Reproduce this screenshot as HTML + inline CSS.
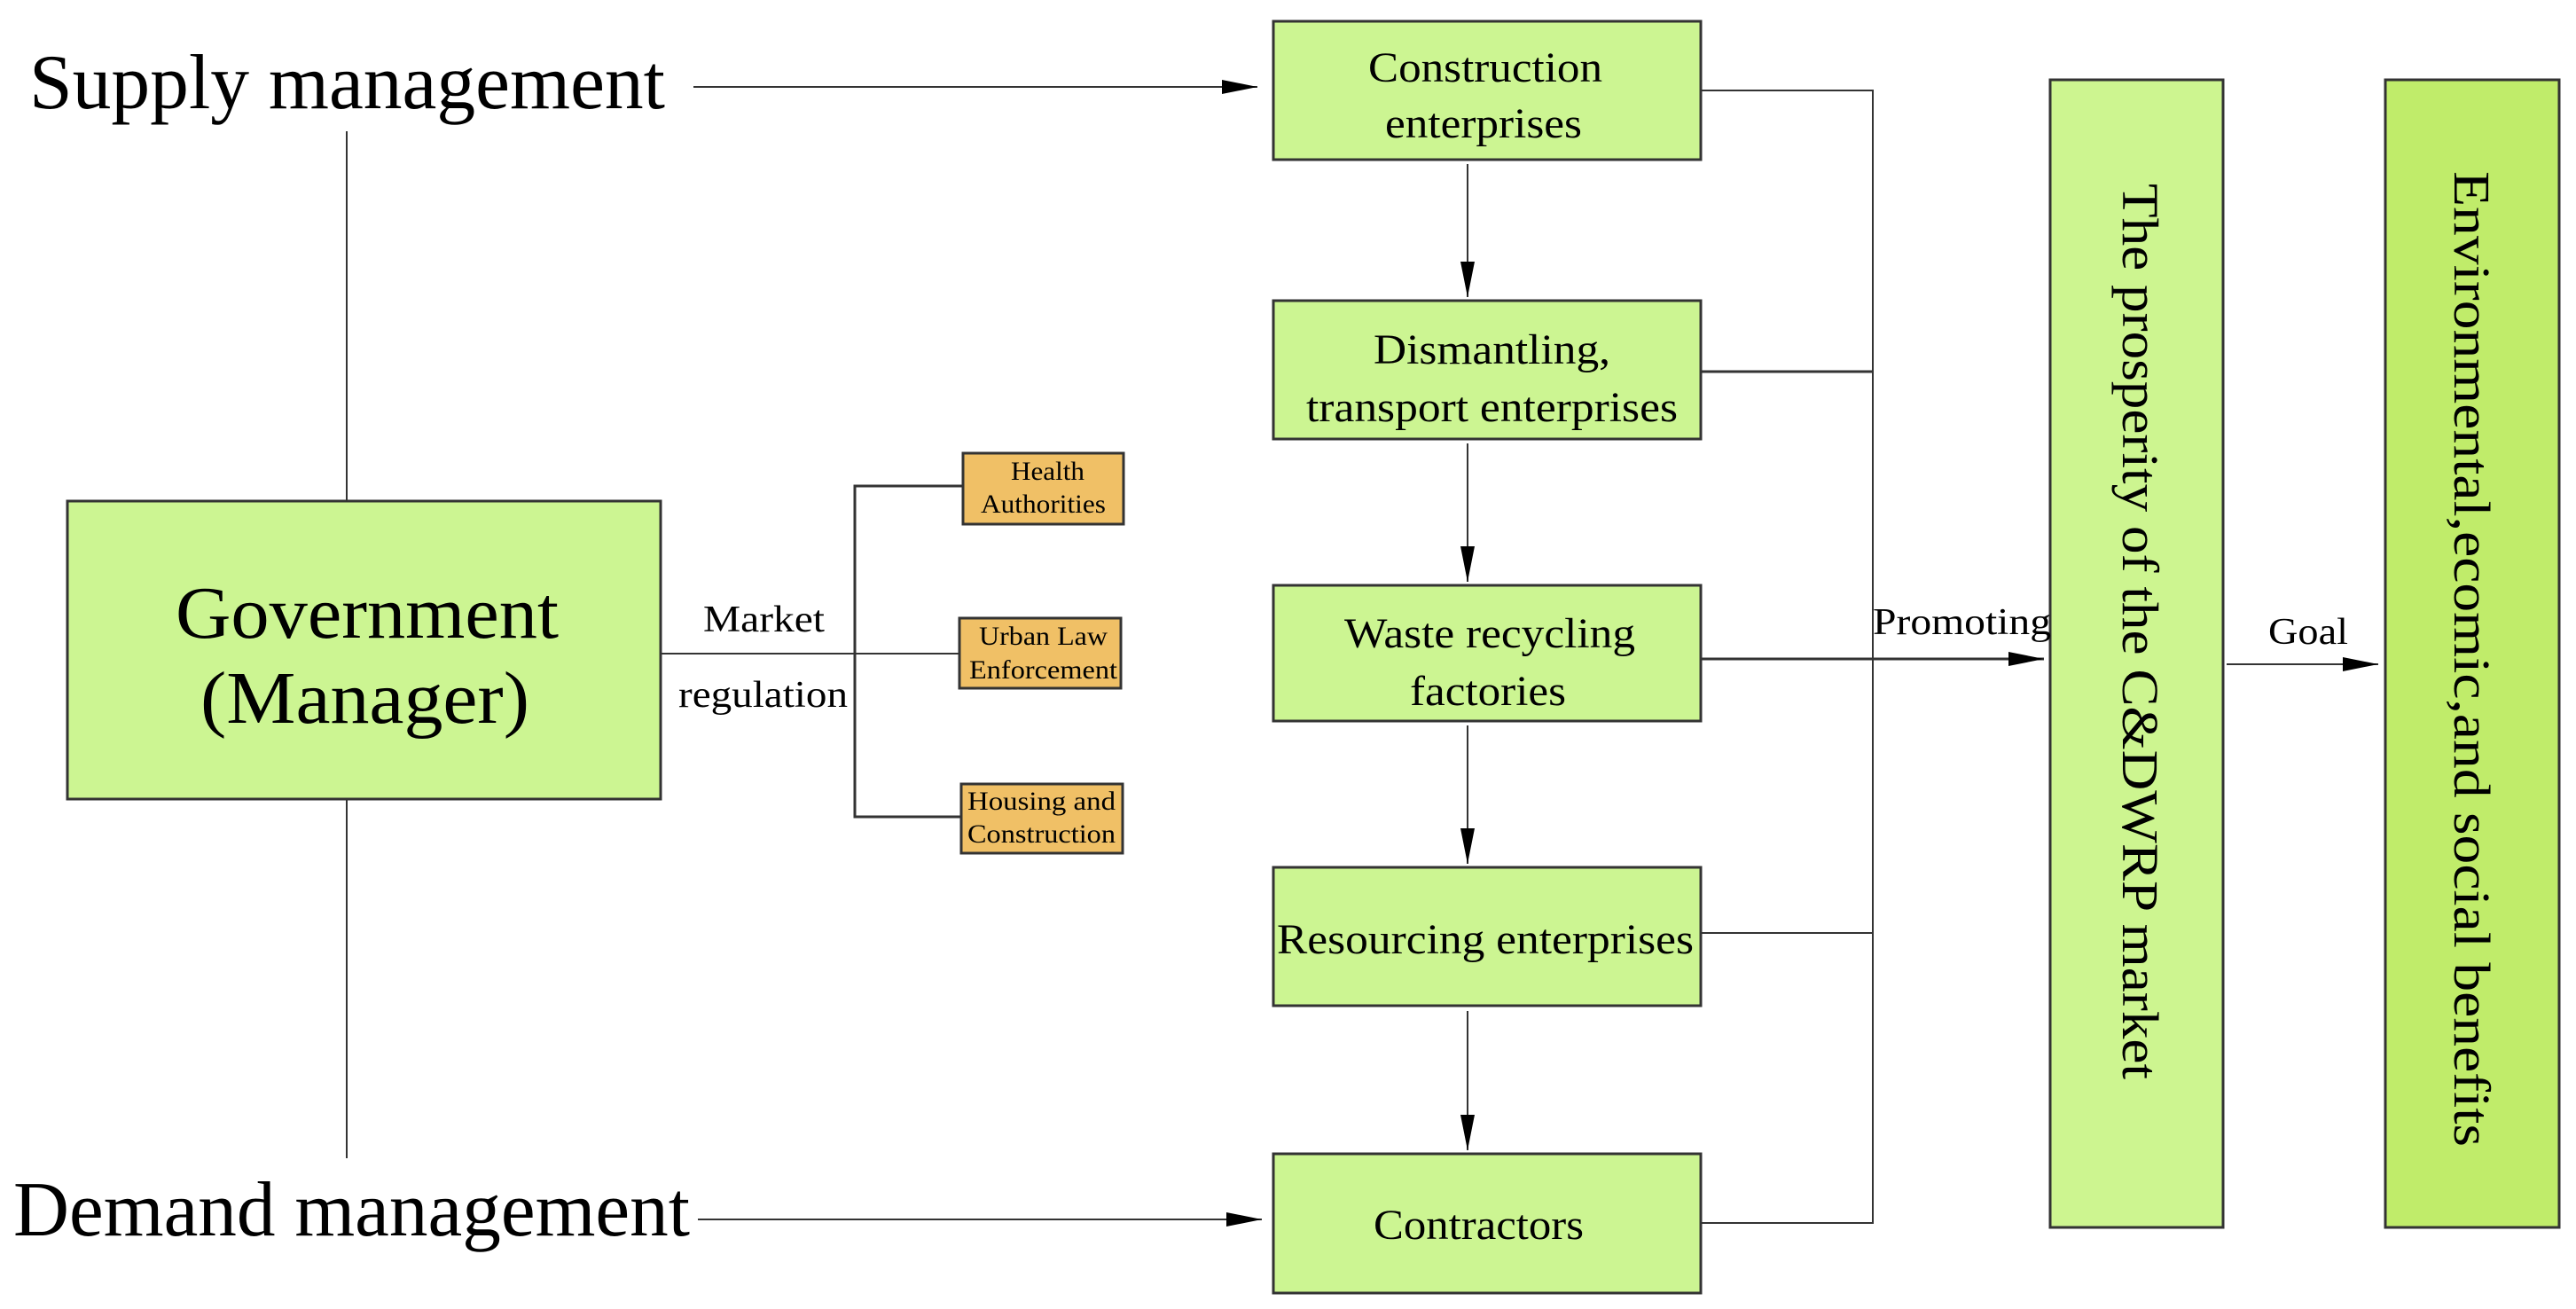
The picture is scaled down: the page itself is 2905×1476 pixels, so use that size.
<!DOCTYPE html>
<html><head><meta charset="utf-8"><style>html,body{margin:0;padding:0;background:#fff}svg{display:block}</style></head>
<body>
<svg width="2905" height="1476" viewBox="0 0 2905 1476" xmlns="http://www.w3.org/2000/svg" font-family="'Liberation Serif', serif">
<defs>
<marker id="b" markerWidth="40" markerHeight="16" refX="40" refY="8" orient="auto" markerUnits="userSpaceOnUse" viewBox="0 0 40 16"><path d="M0,0 L40,8 L0,16 z" fill="#000"/></marker>
</defs>
<g stroke="#333" stroke-width="2" fill="none">
<line x1="782" y1="98" x2="1418" y2="98" marker-end="url(#b)"/>
<line x1="787" y1="1375" x2="1423" y2="1375" marker-end="url(#b)"/>
<line x1="391" y1="148" x2="391" y2="565"/>
<line x1="391" y1="901" x2="391" y2="1306"/>
<line x1="745" y1="737" x2="1082" y2="737"/>
<polyline points="1086,548 964,548 964,921 1084,921" stroke-width="3"/>
<line x1="1655" y1="185" x2="1655" y2="335" marker-end="url(#b)"/>
<line x1="1655" y1="500" x2="1655" y2="656" marker-end="url(#b)"/>
<line x1="1655" y1="818" x2="1655" y2="974" marker-end="url(#b)"/>
<line x1="1655" y1="1140" x2="1655" y2="1297" marker-end="url(#b)"/>
<polyline points="1918,102 2112,102 2112,1379 1918,1379"/>
<line x1="1918" y1="419" x2="2112" y2="419" stroke-width="3"/>
<line x1="1918" y1="1052" x2="2112" y2="1052"/>
<line x1="1918" y1="743" x2="2305" y2="743" stroke-width="3" marker-end="url(#b)"/>
<line x1="2511" y1="749" x2="2682" y2="749" marker-end="url(#b)"/>
</g>
<g stroke="#333" stroke-width="3">
<rect x="76" y="565" width="669" height="336" fill="#ccf592"/>
<rect x="1436" y="24" width="482" height="156" fill="#ccf592"/>
<rect x="1436" y="339" width="482" height="156" fill="#ccf592"/>
<rect x="1436" y="660" width="482" height="153" fill="#ccf592"/>
<rect x="1436" y="978" width="482" height="156" fill="#ccf592"/>
<rect x="1436" y="1301" width="482" height="157" fill="#ccf592"/>
<rect x="2312" y="90" width="195" height="1294" fill="#cdf590"/>
<rect x="2690" y="90" width="196" height="1294" fill="#c0ec6a"/>
<rect x="1086" y="511" width="181" height="80" fill="#f0c066"/>
<rect x="1082" y="697" width="182" height="79" fill="#f0c066"/>
<rect x="1084" y="884" width="182" height="78" fill="#f0c066"/>
</g>
<g fill="#000" lengthAdjust="spacingAndGlyphs">
<text x="33" y="122" font-size="88" textLength="717" lengthAdjust="spacingAndGlyphs">Supply management</text>
<text x="15" y="1393" font-size="88" textLength="763" lengthAdjust="spacingAndGlyphs">Demand management</text>
<text x="198" y="719" font-size="84" textLength="432" lengthAdjust="spacingAndGlyphs">Government</text>
<text x="226" y="815" font-size="84" textLength="371" lengthAdjust="spacingAndGlyphs">(Manager)</text>
<text x="793" y="712" font-size="42" textLength="137" lengthAdjust="spacingAndGlyphs">Market</text>
<text x="765" y="797" font-size="42" textLength="191" lengthAdjust="spacingAndGlyphs">regulation</text>
<text x="2112" y="715" font-size="42" textLength="201" lengthAdjust="spacingAndGlyphs">Promoting</text>
<text x="2558" y="726" font-size="42" textLength="90" lengthAdjust="spacingAndGlyphs">Goal</text>
<g font-size="30">
<text x="1140" y="541" textLength="83" lengthAdjust="spacingAndGlyphs">Health</text>
<text x="1106" y="578" textLength="141" lengthAdjust="spacingAndGlyphs">Authorities</text>
<text x="1104" y="727" textLength="145" lengthAdjust="spacingAndGlyphs">Urban Law</text>
<text x="1093" y="765" textLength="167" lengthAdjust="spacingAndGlyphs">Enforcement</text>
<text x="1091" y="913" textLength="167" lengthAdjust="spacingAndGlyphs">Housing and</text>
<text x="1091" y="950" textLength="167" lengthAdjust="spacingAndGlyphs">Construction</text>
</g>
<g font-size="48">
<text x="1543" y="92" textLength="264" lengthAdjust="spacingAndGlyphs">Construction</text>
<text x="1562" y="155" textLength="222" lengthAdjust="spacingAndGlyphs">enterprises</text>
<text x="1549" y="410" textLength="267" lengthAdjust="spacingAndGlyphs">Dismantling,</text>
<text x="1473" y="475" textLength="419" lengthAdjust="spacingAndGlyphs">transport enterprises</text>
<text x="1516" y="730" textLength="328" lengthAdjust="spacingAndGlyphs">Waste recycling</text>
<text x="1590" y="795" textLength="176" lengthAdjust="spacingAndGlyphs">factories</text>
<text x="1440" y="1075" textLength="470" lengthAdjust="spacingAndGlyphs">Resourcing enterprises</text>
<text x="1549" y="1397" textLength="237" lengthAdjust="spacingAndGlyphs">Contractors</text>
</g>
<text transform="translate(2394,207) rotate(90)" font-size="58" textLength="1010" lengthAdjust="spacingAndGlyphs">The prosperity of the C&amp;DWRP market</text>
<text transform="translate(2768,193) rotate(90)" font-size="58" textLength="1100" lengthAdjust="spacingAndGlyphs">Environmental,ecomic,and social benefits</text>
</g>
</svg>
</body></html>
